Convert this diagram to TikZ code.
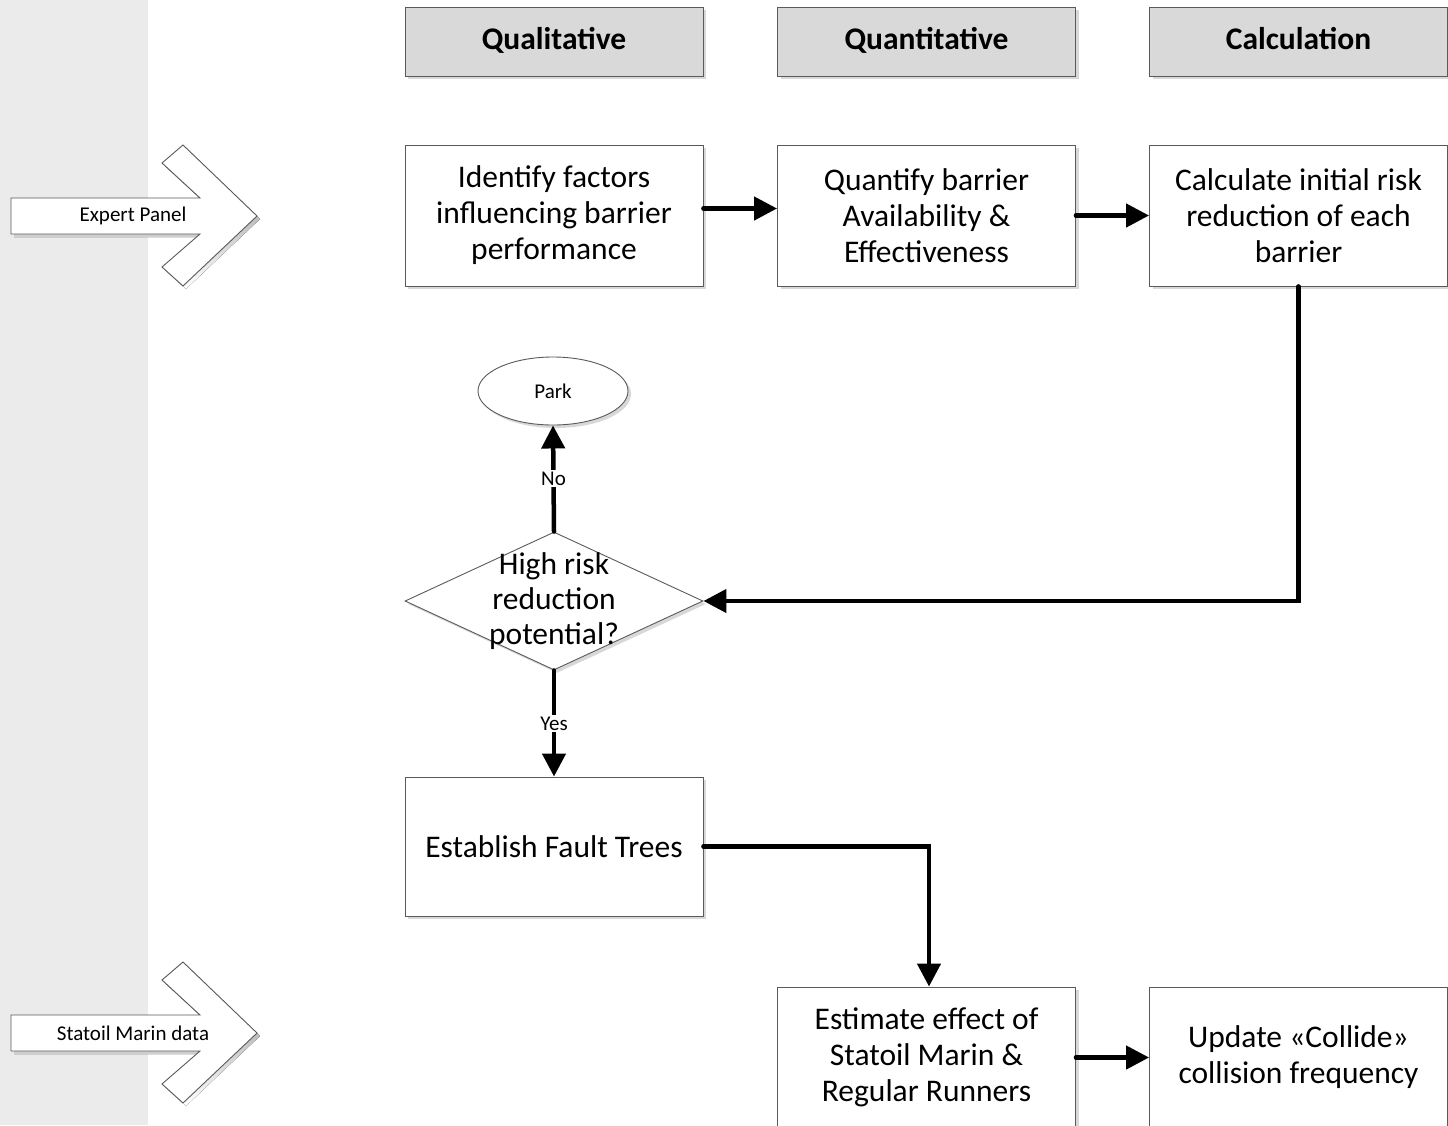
\documentclass[tikz,border=0pt]{standalone}
\usepackage{fontspec}
\setmainfont{Carlito}
\usetikzlibrary{shapes.geometric,arrows.meta,shadows}
\definecolor{band}{HTML}{EBEBEB}
\definecolor{headfill}{HTML}{D9D9D9}
\definecolor{edge}{HTML}{5A5A5A}
\definecolor{shade}{HTML}{D8D8D8}
\tikzset{
  shadowed/.style={drop shadow={shadow xshift=3pt,shadow yshift=-3pt,fill=shade,opacity=1}},
  head/.style={draw=edge, fill=headfill, line width=0.9pt, minimum width=298pt,
    minimum height=69pt, inner sep=0pt, text height=22pt, text depth=7pt,
    font=\fontsize{31.5}{36}\selectfont\bfseries, shadowed},
  proc/.style={draw=edge, fill=white, line width=0.9pt, minimum width=298pt,
    minimum height=141pt, inner sep=0pt, align=center,
    font=\fontsize{31.5}{36}\selectfont, shadowed},
  decision/.style={diamond, draw=edge, fill=white, line width=0.9pt,
    minimum width=298pt, minimum height=138pt, inner sep=0pt, shadowed},
  terminal/.style={ellipse, draw=edge, fill=white, line width=0.9pt,
    minimum width=150pt, minimum height=68pt, inner sep=0pt,
    font=\fontsize{21}{24}\selectfont, shadowed},
  conn/.style={line width=4.5pt, line cap=round, -{Triangle[length=23pt,width=23pt]}},
  lbl/.style={fill=white, inner sep=2pt, font=\fontsize{21}{24}\selectfont},
  feed/.pic={
    % input arrow: shaft with a chevron head
    \fill[shade] (3,-15) -- (192,-15) -- (154,-50) -- (175,-68) -- (249,3)
      -- (175,73) -- (154,54) -- (192,21) -- (3,21) -- cycle;
    \draw[edge, fill=white, line width=0.9pt] (0,-18) -- (189,-18) -- (151,-53)
      -- (172,-71) -- (246,0) -- (172,70) -- (151,51) -- (189,18) -- (0,18) -- cycle;
    \node[font=\fontsize{21}{24}\selectfont] (-txt) at (122,0) {#1};
  }
}
\begin{document}
\begin{tikzpicture}[x=1pt,y=-1pt]
\useasboundingbox (0,0) rectangle (1448,1125);
\fill[band] (0,0) rectangle (148,1125);

% column headers
\node[head] (h1) at (554,41.5) {Qualitative};
\node[head] (h2) at (926.5,41.5) {Quantitative};
\node[head] (h3) at (1298.5,41.5) {Calculation};

% input sources
\pic (ep) at (11,216) {feed={Expert Panel}};
\pic (sm) at (11,1033) {feed={Statoil Marin data}};

% process steps
\node[proc] (b1) at (554,215.5) {Identify factors\\influencing barrier\\performance};
\node[proc] (b2) at (926.5,215.5) {Quantify barrier\\Availability \&\\Effectiveness};
\node[proc] (b3) at (1298.5,215.5) {Calculate initial risk\\reduction of each\\barrier};

\node[terminal] (park) at (553,391) {Park};
\node[decision] (dia) at (554,601) {};
\node[font=\fontsize{31.5}{35}\selectfont, align=center] (diatxt) at (554,601)
  {High risk\\reduction\\potential?};

\node[proc, minimum height=139pt] (ft) at (554,846.5) {Establish Fault Trees};
\node[proc] (est) at (926.5,1057.5) {Estimate effect of\\Statoil Marin \&\\Regular Runners};
\node[proc] (upd) at (1298.5,1057.5) {Update «Collide»\\collision frequency};

% connectors
\draw[conn] ([yshift=7pt]b1.east) -- ([yshift=7pt]b2.west);
\draw[conn] (b2.east) -- (b3.west);
\draw[conn] (b3.south) |- (dia.east);
\draw[conn] (dia.north) -- node[lbl] {No} (park.south);
\draw[conn] (dia.south) -- node[lbl] {Yes} (ft.north);
\draw[conn] (ft.east) -| ([xshift=2.5pt]est.north);
\draw[conn] (est.east) -- (upd.west);
\end{tikzpicture}
\end{document}
